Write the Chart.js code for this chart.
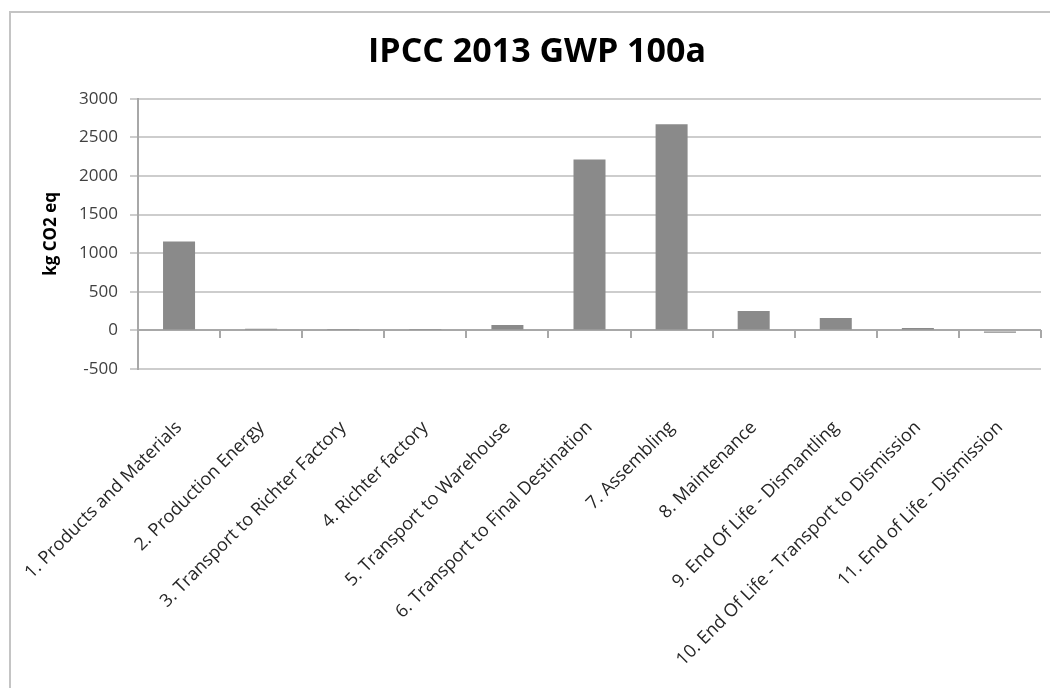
<!DOCTYPE html>
<html>
<head>
<meta charset="utf-8">
<title>IPCC 2013 GWP 100a</title>
<script src="https://cdn.jsdelivr.net/npm/chart.js@4/dist/chart.umd.min.js"></script>
<style>
  html, body { margin: 0; padding: 0; background: #fff; }
  #wrap { position: relative; width: 1050px; height: 688px; overflow: hidden; }
  #frame { position: absolute; left: 9px; top: 11px; width: 1100px; height: 700px;
           border-left: 2px solid #c4c4c4; border-top: 2px solid #c4c4c4; }
  #chart { position: absolute; left: 0; top: 0; }
</style>
</head>
<body>
<div id="wrap">
  <div id="frame"></div>
  <canvas id="chart" width="1050" height="688"></canvas>
</div>
<script>
// life cycle stages and their GWP contribution (kg CO2 eq)
const stages = [
  "1. Products and Materials",
  "2. Production Energy",
  "3. Transport to Richter Factory",
  "4. Richter factory",
  "5. Transport to Warehouse",
  "6. Transport to Final Destination",
  "7. Assembling",
  "8. Maintenance",
  "9. End Of Life - Dismantling",
  "10. End Of Life - Transport to Dismission",
  "11. End of Life - Dismission"
];
const gwp = [1150, 20, 18, 18, 70, 2215, 2670, 250, 160, 30, -30];
const yMin = -500;
const yMax = 3000;
const yStep = 500;

const FONT = "'Open Sans', 'DejaVu Sans', sans-serif";

// category axis drawn across the zero line, with tick marks between stages
const zeroAxis = {
  id: "zeroAxis",
  beforeDatasetsDraw(chart) {
    const x = chart.scales.x, y = chart.scales.y;
    const ctx = chart.ctx;
    const y0 = Math.round(y.getPixelForValue(0));
    ctx.save();
    ctx.strokeStyle = "#a8a8a8";
    ctx.lineWidth = 2;
    ctx.beginPath();
    ctx.moveTo(x.left, y0);
    ctx.lineTo(x.right, y0);
    const step = (x.right - x.left) / stages.length;
    for (let i = 1; i <= stages.length; i++) {
      const px = Math.round(x.left + step * i);
      ctx.moveTo(px, y0);
      ctx.lineTo(px, y0 + 8);
    }
    ctx.stroke();
    ctx.restore();
  }
};

new Chart(document.getElementById("chart"), {
  type: "bar",
  data: {
    labels: stages,
    datasets: [{
      label: "IPCC 2013 GWP 100a",
      data: gwp,
      backgroundColor: "#8a8a8a",
      categoryPercentage: 1,
      barPercentage: 0.39
    }]
  },
  options: {
    responsive: false,
    animation: false,
    layout: { padding: { left: 33, right: 9, top: 32, bottom: 0 } },
    plugins: {
      legend: { display: false },
      tooltip: { enabled: false },
      title: {
        display: true,
        text: "IPCC 2013 GWP 100a",
        color: "#000",
        font: { family: FONT, size: 34, weight: "bold" },
        padding: { top: 0, bottom: 26 }
      }
    },
    scales: {
      x: {
        grid: { display: false, drawTicks: false },
        border: { display: false },
        ticks: {
          autoSkip: false,
          minRotation: 45,
          maxRotation: 45,
          padding: 48,
          color: "#262626",
          font: { family: FONT, size: 18 }
        },
        afterFit(scale) {
          scale.height = 319;
          scale.paddingLeft = 0;
          scale.paddingRight = 0;
        }
      },
      y: {
        min: yMin,
        max: yMax,
        ticks: {
          stepSize: yStep,
          padding: 12,
          color: "#404040",
          font: { family: FONT, size: 17 },
          callback: (v) => String(v)
        },
        grid: { color: "#cdcdcd", lineWidth: 2, tickLength: 8 },
        border: { color: "#a8a8a8", width: 2 },
        title: {
          display: true,
          text: "kg CO2 eq",
          color: "#000",
          font: { family: FONT, size: 17, weight: "bold" },
          padding: { top: 8, bottom: 0 }
        },
        afterFit(scale) { scale.width = 105; }
      }
    }
  },
  plugins: [zeroAxis]
});
</script>
</body>
</html>
